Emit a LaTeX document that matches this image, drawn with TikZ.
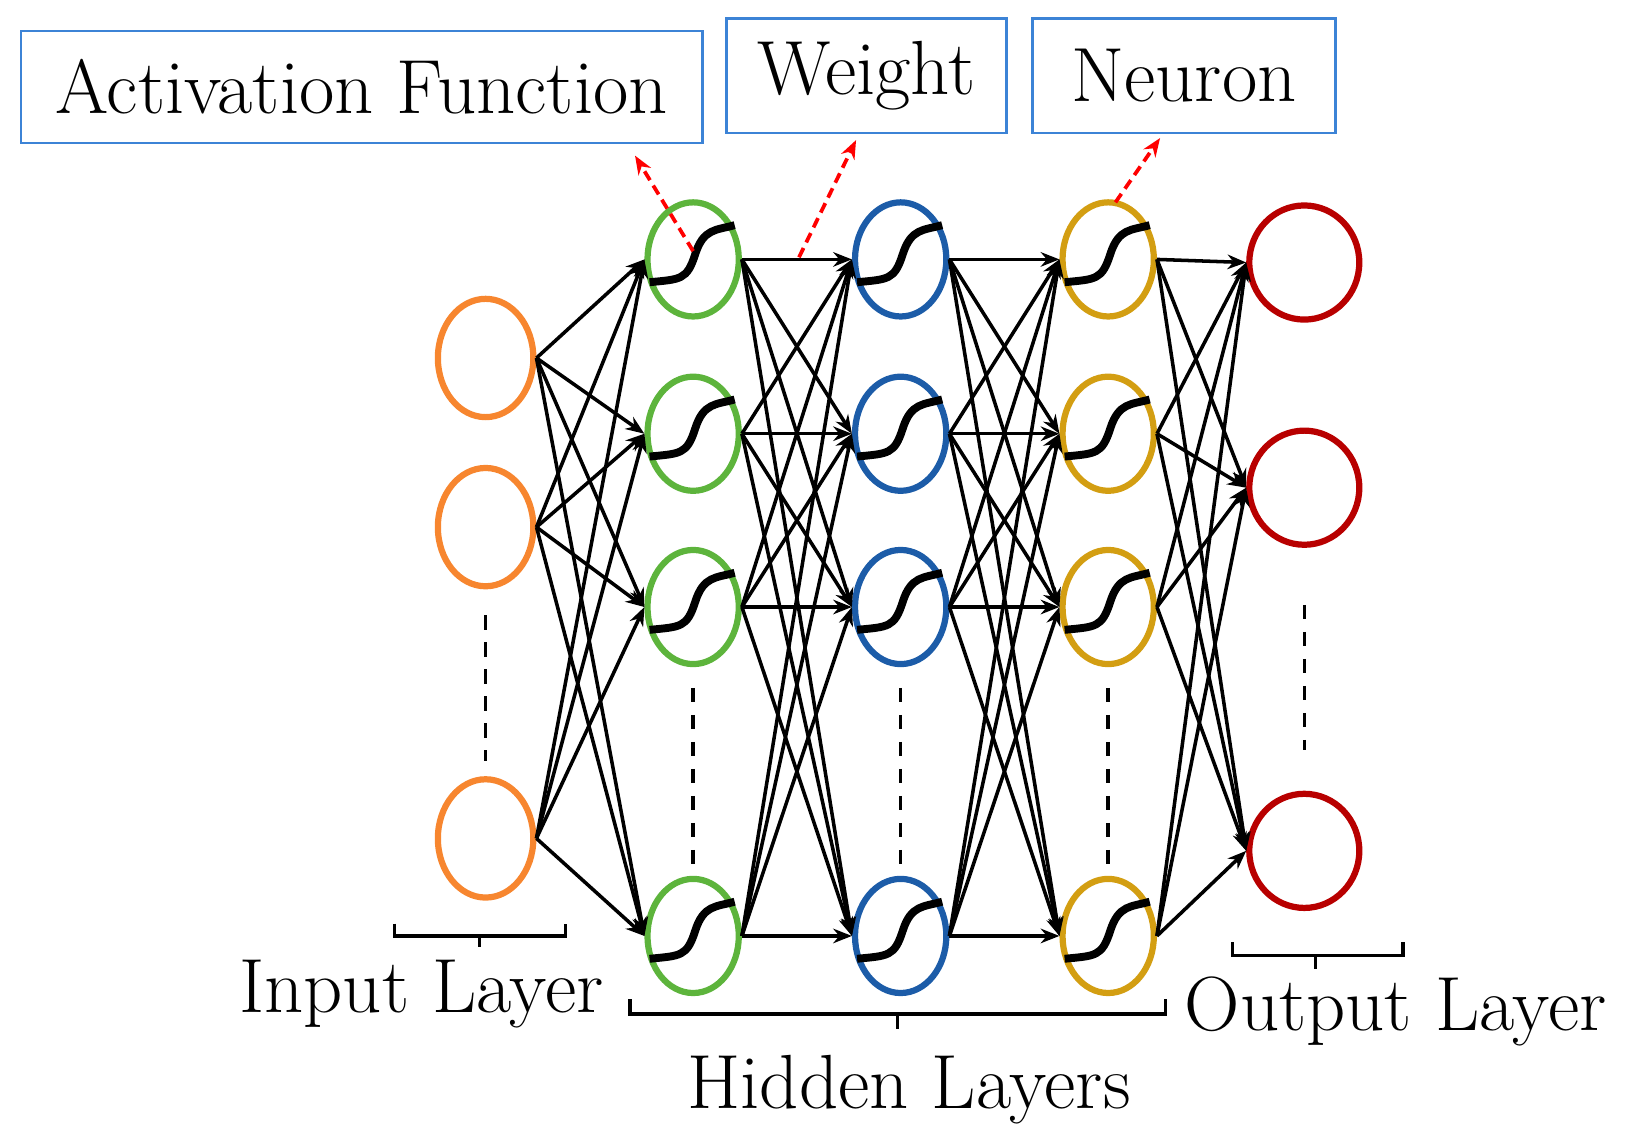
\documentclass[tikz,border=0pt]{standalone}
\usetikzlibrary{shapes.geometric,arrows.meta}
\definecolor{cin}{HTML}{F7862F}
\definecolor{cg}{HTML}{5DB43C}
\definecolor{cb}{HTML}{1C5CA8}
\definecolor{cy}{HTML}{D39E12}
\definecolor{cr}{HTML}{B80000}
\definecolor{cbox}{HTML}{3C83D6}
\begin{document}
\begin{tikzpicture}[x=0.5pt,y=-0.5pt,
  neu/.style={ellipse,draw,line width=3pt,inner sep=0pt},
  inp/.style={neu,cin,minimum width=46pt,minimum height=57pt},
  hid/.style={neu,minimum width=44pt,minimum height=55pt},
  outp/.style={neu,cr,minimum width=53pt,minimum height=55pt},
  edge/.style={line width=1.7pt,-{Stealth[length=9pt,width=7pt]}},
  box/.style={draw=cbox,line width=1.2pt,inner sep=0pt,font=\fontsize{37}{39}\selectfont},
  redarr/.style={draw=red,line width=1.8pt,dash pattern=on 5pt off 3pt,-{Stealth[length=9pt,width=7pt]}},
  dots/.style={line width=1.7pt,dash pattern=on 7pt off 6pt},
  br/.style={line width=1.7pt},
  lab/.style={font=\fontsize{37}{39}\selectfont}]
\useasboundingbox (0,0) rectangle (1568,1103);
% input
\foreach \i/\y in {1/345,2/508,4/808} \node[inp] (i\i) at (468,\y) {};
\foreach \c/\x/\col in {a/668/cg,b/868/cb,c/1068/cy}
  \foreach \i/\y in {1/250,2/418,3/585,4/902}
    \node[hid,\col] (\c\i) at (\x,\y) {};
\foreach \i/\y in {1/253,2/470,4/820} \node[outp] (o\i) at (1257,\y) {};
% edges
\foreach \s in {1,2,4} \foreach \t in {1,2,3,4} \draw[edge] (i\s.east) -- (a\t.west);
\foreach \s in {1,2,3,4} \foreach \t in {1,2,3,4} {
  \draw[edge] (a\s.east) -- (b\t.west);
  \draw[edge] (b\s.east) -- (c\t.west);}
\foreach \s in {1,2,3,4} \foreach \t in {1,2,4} \draw[edge] (c\s.east) -- (o\t.west);
% sigmoids
\foreach \c in {a,b,c} \foreach \i in {1,2,3,4}
  \draw[line width=3.8pt] ([shift={(-42,22)}]\c\i.center) .. controls +(30,-3) and +(-8,25) .. ([shift={(2,-5)}]\c\i.center) .. controls +(8,-25) and +(-18,5) .. ([shift={(40,-33)}]\c\i.center);
% dotted continuations
\draw[dots] (i2.south) ++(0,25) -- ++(0,140);
\foreach \c in {a,b,c} \draw[dots] (\c3.south) ++(0,20) -- ++(0,170);
\draw[dots] (o2.south) ++(0,55) -- ++(0,140);
% boxes
\node[box,minimum width=328.5pt,minimum height=54pt] (af) at (348.5,84) {Activation Function};
\node[box,minimum width=135pt,minimum height=55pt] (w) at (835,73) {Weight};
\node[box,minimum width=146pt,minimum height=55pt] (n) at (1141,73) {Neuron};
\coordinate (p1) at (668,242); \coordinate (q1) at (612,150);
\coordinate (p2) at (770,248); \coordinate (q2) at (825,135);
\coordinate (p3) at (1075,195); \coordinate (q3) at (1118,133);
\draw[redarr] (p1) -- (q1); \draw[redarr] (p2) -- (q2); \draw[redarr] (p3) -- (q3);
% brackets
\draw[br] (380,890) -- (380,902) -- (545,902) -- (545,890) (462,902) -- (462,913);
\draw[br] (607,963) -- (607,977) -- (1123,977) -- (1123,963) (865,977) -- (865,992);
\draw[br] (1188,908) -- (1188,921) -- (1352,921) -- (1352,908) (1268,921) -- (1268,934);
\node[lab] (il) at (406,958) {Input Layer};
\node[lab] (hl) at (876,1050) {Hidden Layers};
\node[lab] (ol) at (1345,975) {Output Layer};
\end{tikzpicture}
\end{document}
